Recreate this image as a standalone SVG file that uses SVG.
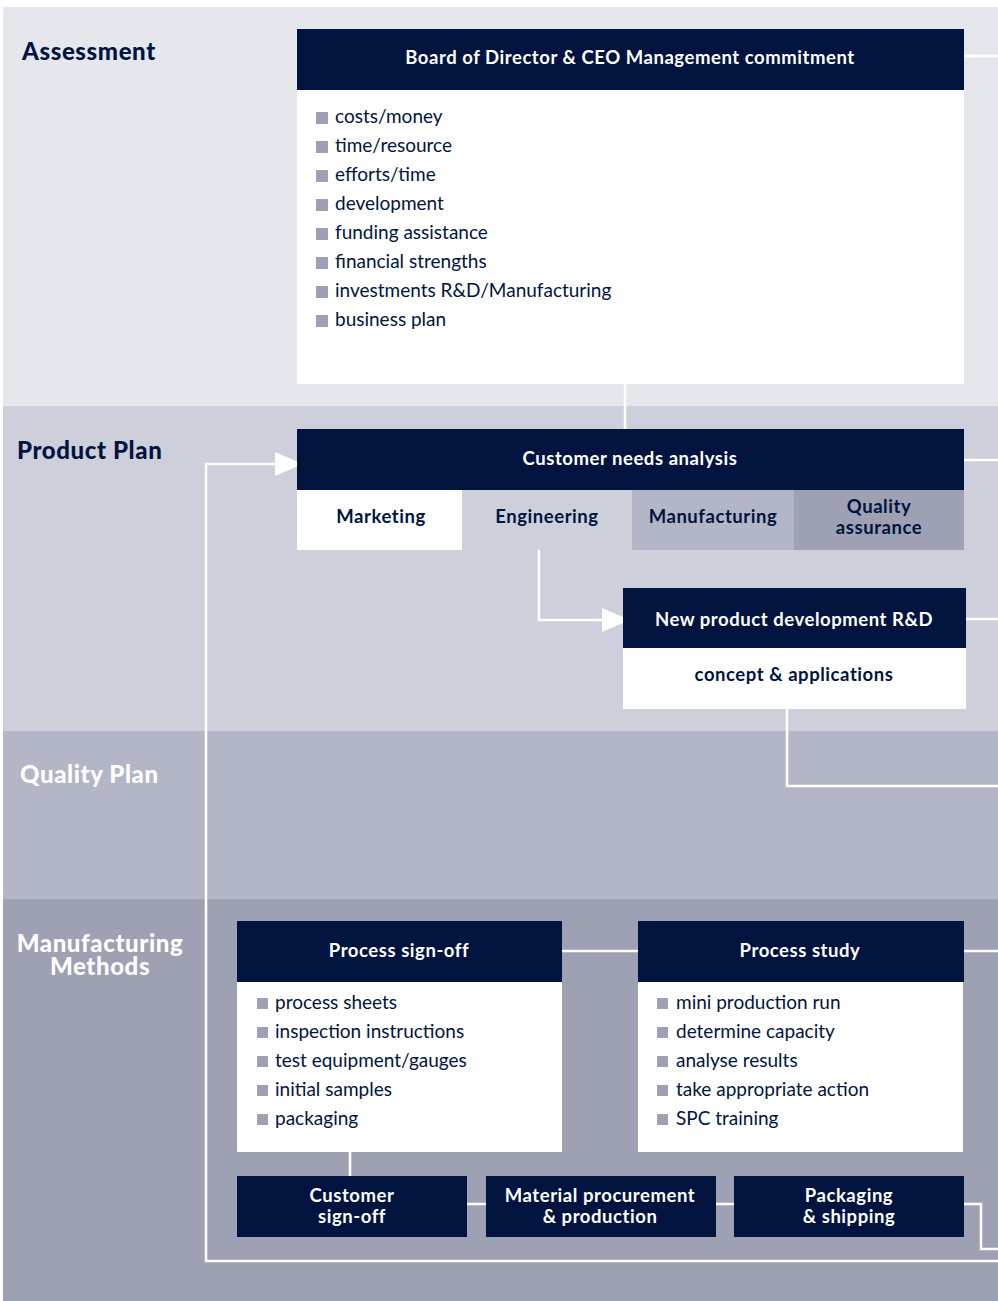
<svg xmlns="http://www.w3.org/2000/svg" width="998" height="1301" viewBox="0 0 998 1301">
  <defs>
    <style>
      .navy { fill: #00143f; }
      .white { fill: #ffffff; }
      .band-label { font-family: Lato, "Noto Sans", sans-serif; font-weight: 900; font-size: 24px; letter-spacing: 0.6px; }
      .head { font-family: Lato, "Noto Sans", sans-serif; font-weight: 700; font-size: 18.5px; letter-spacing: 0.55px; fill: #ffffff; text-anchor: middle; }
      .sub { font-family: Lato, "Noto Sans", sans-serif; font-weight: 700; font-size: 18.5px; letter-spacing: 0.55px; fill: #00143f; text-anchor: middle; }
      .item { font-family: Lato, "Noto Sans", sans-serif; font-size: 19px; fill: #00143f; }
      .bullet { fill: #9da1b3; }
      .wire { fill: none; stroke: #ffffff; stroke-width: 2.5; }
    </style>
    <marker id="arrow" viewBox="0 0 28 24" refX="27" refY="12" markerWidth="28" markerHeight="24" markerUnits="userSpaceOnUse" orient="auto">
      <path d="M0,0 L28,12 L0,24 Z" fill="#ffffff"/>
    </marker>
  </defs>

  <!-- page background and swimlanes -->
  <rect x="0" y="0" width="998" height="1301" fill="#ffffff"/>
  <rect x="3" y="7" width="995" height="399" fill="#e6e7ed"/>
  <rect x="3" y="406" width="995" height="325" fill="#cdd0da"/>
  <rect x="3" y="731" width="995" height="168" fill="#b3b6c6"/>
  <rect x="3" y="899" width="995" height="402" fill="#9da1b3"/>

  <g id="lane-labels">
    <text class="band-label navy" x="22" y="60">Assessment</text>
    <text class="band-label navy" x="17" y="459">Product Plan</text>
    <text class="band-label white" x="20" y="783">Quality Plan</text>
    <text class="band-label white" x="100" y="952" text-anchor="middle">Manufacturing</text>
    <text class="band-label white" x="100" y="975" text-anchor="middle">Methods</text>
  </g>

  <!-- connectors -->
  <g id="connectors">
    <line class="wire" x1="625" y1="384" x2="625" y2="429"/>
    <line class="wire" x1="964" y1="56" x2="998" y2="56"/>
    <line class="wire" x1="964" y1="460" x2="998" y2="460"/>
    <line class="wire" x1="966" y1="619" x2="998" y2="619"/>
    <polyline class="wire" points="539,550 539,620 629,620" marker-end="url(#arrow)"/>
    <polyline class="wire" points="787,709 787,786 998,786"/>
    <polyline class="wire" points="998,1261 206,1261 206,464 302,464" marker-end="url(#arrow)"/>
    <line class="wire" x1="562" y1="951" x2="638" y2="951"/>
    <line class="wire" x1="964" y1="951" x2="998" y2="951"/>
    <line class="wire" x1="350" y1="1152" x2="350" y2="1176"/>
    <line class="wire" x1="467" y1="1204" x2="486" y2="1204"/>
    <line class="wire" x1="716" y1="1204" x2="734" y2="1204"/>
    <polyline class="wire" points="964,1204 981,1204 981,1249 998,1249"/>
  </g>

  <g id="board">
    <rect class="navy" x="297" y="29" width="667" height="61"/>
    <rect class="white" x="297" y="90" width="667" height="294"/>
    <text class="head" x="630" y="64">Board of Director &amp; CEO Management commitment</text>
    <rect class="bullet" x="316" y="112" width="12" height="12"/>
    <text class="item" x="335" y="123">costs/money</text>
    <rect class="bullet" x="316" y="141" width="12" height="12"/>
    <text class="item" x="335" y="152">time/resource</text>
    <rect class="bullet" x="316" y="170" width="12" height="12"/>
    <text class="item" x="335" y="181">efforts/time</text>
    <rect class="bullet" x="316" y="199" width="12" height="12"/>
    <text class="item" x="335" y="210">development</text>
    <rect class="bullet" x="316" y="228" width="12" height="12"/>
    <text class="item" x="335" y="239">funding assistance</text>
    <rect class="bullet" x="316" y="257" width="12" height="12"/>
    <text class="item" x="335" y="268">financial strengths</text>
    <rect class="bullet" x="316" y="286" width="12" height="12"/>
    <text class="item" x="335" y="297">investments R&amp;D/Manufacturing</text>
    <rect class="bullet" x="316" y="315" width="12" height="12"/>
    <text class="item" x="335" y="326">business plan</text>
  </g>

  <g id="customer-needs">
    <rect class="navy" x="297" y="429" width="667" height="61"/>
    <text class="head" x="630" y="465">Customer needs analysis</text>
    <rect x="297" y="490" width="165" height="60" fill="#ffffff"/>
    <rect x="632" y="490" width="162" height="60" fill="#b3b6c6"/>
    <rect x="794" y="490" width="170" height="60" fill="#9da1b3"/>
    <text class="sub" x="381" y="523">Marketing</text>
    <text class="sub" x="547" y="523">Engineering</text>
    <text class="sub" x="713" y="523">Manufacturing</text>
    <text class="sub" x="879" y="513">Quality</text>
    <text class="sub" x="879" y="534">assurance</text>
  </g>

  <g id="new-product">
    <rect class="navy" x="623" y="588" width="343" height="60"/>
    <rect class="white" x="623" y="648" width="343" height="61"/>
    <text class="head" x="794" y="626">New product development R&amp;D</text>
    <text class="sub" x="794" y="681">concept &amp; applications</text>
  </g>

  <g id="process-signoff">
    <rect class="navy" x="237" y="921" width="325" height="61"/>
    <rect class="white" x="237" y="982" width="325" height="170"/>
    <text class="head" x="399" y="957">Process sign-off</text>
    <rect class="bullet" x="257" y="998" width="11" height="11"/>
    <text class="item" x="275" y="1009">process sheets</text>
    <rect class="bullet" x="257" y="1027" width="11" height="11"/>
    <text class="item" x="275" y="1038">inspection instructions</text>
    <rect class="bullet" x="257" y="1056" width="11" height="11"/>
    <text class="item" x="275" y="1067">test equipment/gauges</text>
    <rect class="bullet" x="257" y="1085" width="11" height="11"/>
    <text class="item" x="275" y="1096">initial samples</text>
    <rect class="bullet" x="257" y="1114" width="11" height="11"/>
    <text class="item" x="275" y="1125">packaging</text>
  </g>

  <g id="process-study">
    <rect class="navy" x="638" y="921" width="326" height="61"/>
    <rect class="white" x="638" y="982" width="325" height="170"/>
    <text class="head" x="800" y="957">Process study</text>
    <rect class="bullet" x="657" y="998" width="11" height="11"/>
    <text class="item" x="676" y="1009">mini production run</text>
    <rect class="bullet" x="657" y="1027" width="11" height="11"/>
    <text class="item" x="676" y="1038">determine capacity</text>
    <rect class="bullet" x="657" y="1056" width="11" height="11"/>
    <text class="item" x="676" y="1067">analyse results</text>
    <rect class="bullet" x="657" y="1085" width="11" height="11"/>
    <text class="item" x="676" y="1096">take appropriate action</text>
    <rect class="bullet" x="657" y="1114" width="11" height="11"/>
    <text class="item" x="676" y="1125">SPC training</text>
  </g>

  <g id="customer-signoff">
    <rect class="navy" x="237" y="1176" width="230" height="61"/>
    <text class="head" x="352" y="1202">Customer</text>
    <text class="head" x="352" y="1223">sign-off</text>
  </g>

  <g id="material-procurement">
    <rect class="navy" x="486" y="1176" width="230" height="61"/>
    <text class="head" x="600" y="1202">Material procurement</text>
    <text class="head" x="600" y="1223">&amp; production</text>
  </g>

  <g id="packaging-shipping">
    <rect class="navy" x="734" y="1176" width="230" height="61"/>
    <text class="head" x="849" y="1202">Packaging</text>
    <text class="head" x="849" y="1223">&amp; shipping</text>
  </g>
</svg>
